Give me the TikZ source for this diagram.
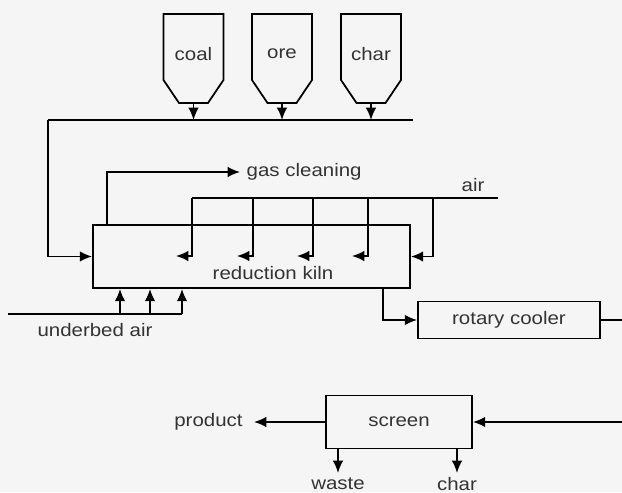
\documentclass[tikz,border=0pt]{standalone}
\usepackage{fontspec}
\setmainfont{Liberation Sans}[FakeStretch=1.13]
\usetikzlibrary{arrows.meta}

\begin{document}
\begin{tikzpicture}[
    line width=1pt,
    flow/.style={-{Latex[length=7pt, width=6pt]}},
    unit/.style={draw, rectangle, inner sep=0pt},
    tag/.style={text=black!80, font=\fontsize{10.3}{12}\selectfont}
]
    % Paper
    \fill[black!4] (0, 0) rectangle (12.44, 9.84);
    \useasboundingbox (0, 0) rectangle (12.44, 9.84);

    % Feed line
    \coordinate (feedL) at (0.96, 7.44);
    \coordinate (feedR) at (8.26, 7.44);
    \draw (feedR) -- (feedL);

    % Hoppers dropping onto the feed line
    \foreach \x/\name in {3.87/coal, 5.64/ore, 7.42/char} {
        \draw (\x-0.6, 9.56) -- (\x-0.6, 8.24) -- (\x-0.29, 7.78) -- (\x+0.29, 7.78)
            -- (\x+0.6, 8.24) -- (\x+0.6, 9.56) -- cycle;
        \node[tag] (hopper-\name) at (\x, 8.76) {\name};
        \coordinate (\name-out) at (\x, 7.78);
        \draw[flow] (\name-out) -- (\name-out |- feedL);
    }

    % Kiln
    \node[unit, minimum width=6.34cm, minimum height=1.26cm] (kiln) at (5.03, 4.71) {};
    \node[tag] (kilnlabel) at (5.46, 4.38) {reduction kiln};
    \draw[flow] (feedL) |- (kiln.west);

    % Off-gas
    \coordinate (gasout) at (2.14, 5.34);
    \node[tag, anchor=west] (gas) at (4.80, 6.40) {gas cleaning};
    \draw[flow] (gasout) |- (gas.west);

    % Air header and ports
    \coordinate (airR) at (9.96, 5.88);
    \node[tag] (air) at (9.46, 6.14) {air};
    \foreach \x [count=\i] in {3.84, 5.06, 6.26, 7.36} {
        \coordinate (air\i) at (\x, 5.88);
        \coordinate (port\i) at (\x-0.32, 4.72);
        \draw[flow] (air\i) |- (port\i);
    }
    \draw (air1) -- (airR);
    \coordinate (air5) at (8.66, 5.88);
    \draw[flow] (air5) |- (kiln.east);

    % Underbed air
    \coordinate (ubL) at (0.16, 3.56);
    \coordinate (ubR) at (3.64, 3.56);
    \draw (ubL) -- (ubR);
    \foreach \x [count=\i] in {2.40, 3.00} {
        \coordinate (ub\i) at (\x, 3.56);
        \draw[flow] (ub\i) -- (ub\i |- kiln.south);
    }
    \draw[flow] (ubR) -- (ubR |- kiln.south);
    \node[tag] (underbed) at (1.90, 3.24) {underbed air};

    % Cooler
    \coordinate (kilnout) at (7.66, 4.08);
    \node[unit, tag, minimum width=3.64cm, minimum height=0.74cm] (cooler) at (10.18, 3.44) {rotary cooler};
    \draw[flow] (kilnout) |- (cooler.west);
    \coordinate (coolerR) at (12.44, 3.44);
    \draw (cooler.east) -- (coolerR);

    % Screen
    \node[unit, tag, minimum width=2.92cm, minimum height=1.06cm] (screen) at (7.98, 1.40) {screen};
    \coordinate (screenin) at (12.44, 1.40);
    \draw[flow] (screenin) -- (screen.east);
    \node[tag, anchor=east, inner xsep=6pt] (product) at (5.08, 1.40) {product};
    \draw[flow] (screen.west) -- (product.east);
    \node[tag, anchor=north, inner sep=2pt] (waste) at (6.76, 0.38) {waste};
    \draw[flow] (screen.south -| waste) -- (waste.north);
    \node[tag, anchor=north, inner sep=2pt] (charout) at (9.14, 0.38) {char};
    \draw[flow] (screen.south -| charout) -- (charout.north);
\end{tikzpicture}
\end{document}
